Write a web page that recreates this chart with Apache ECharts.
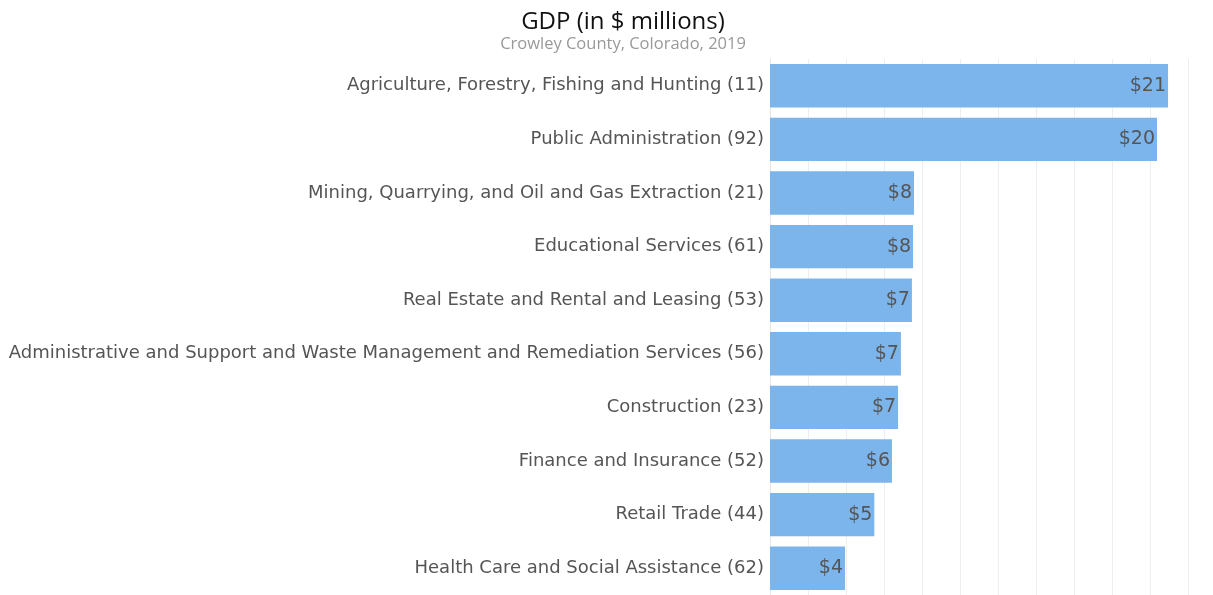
<!DOCTYPE html>
<html>
<head>
<meta charset="utf-8">
<script src="https://cdn.jsdelivr.net/npm/echarts@6/dist/echarts.min.js"></script>
<style>
  html, body { margin: 0; padding: 0; background: #fff; }
  #main { width: 1213px; height: 595px; }
</style>
</head>
<body>
<div id="main"></div>
<script>
// industries, top to bottom
var industries = [
    'Agriculture, Forestry, Fishing and Hunting (11)',
    'Public Administration (92)',
    'Mining, Quarrying, and Oil and Gas Extraction (21)',
    'Educational Services (61)',
    'Real Estate and Rental and Leasing (53)',
    'Administrative and Support and Waste Management and Remediation Services (56)',
    'Construction (23)',
    'Finance and Insurance (52)',
    'Retail Trade (44)',
    'Health Care and Social Assistance (62)'
];
// GDP in $ millions
var gdp = [20.95, 20.37, 7.58, 7.53, 7.47, 6.89, 6.74, 6.42, 5.49, 3.95];

var chart = echarts.init(document.getElementById('main'));

chart.setOption({
    animation: false,
    title: {
        text: 'GDP (in $ millions)',
        subtext: 'Crowley County, Colorado, 2019',
        left: 618,
        textAlign: 'center',
        top: 5,
        itemGap: 2,
        textStyle: {fontFamily: 'Open Sans', fontSize: 24, fontWeight: 'normal', color: '#111'},
        subtextStyle: {fontFamily: 'Open Sans', fontSize: 16.5, color: '#999'}
    },
    grid: {left: 770, width: 418, top: 59, height: 540, containLabel: false},
    xAxis: {
        type: 'value',
        min: 0,
        max: 22,
        interval: 2,
        axisLabel: {show: false},
        axisLine: {show: false},
        axisTick: {show: false},
        splitLine: {lineStyle: {color: '#eeeeee', width: 1}}
    },
    yAxis: {
        type: 'category',
        inverse: true,
        data: industries,
        axisLine: {lineStyle: {color: '#e6e6e6'}},
        axisTick: {length: 5, lineStyle: {color: '#d0d0d0'}},
        axisLabel: {fontFamily: 'DejaVu Sans', fontSize: 18, color: '#555', margin: 6}
    },
    series: [{
        type: 'bar',
        data: gdp,
        barCategoryGap: '19%',
        itemStyle: {color: '#7cb5ec'},
        label: {
            show: true,
            position: 'insideRight',
            distance: 2,
            fontFamily: 'DejaVu Sans',
            fontSize: 19,
            color: '#555',
            formatter: function(p){ return '$' + Math.round(p.value); }
        }
    }]
});
</script>
</body>
</html>
